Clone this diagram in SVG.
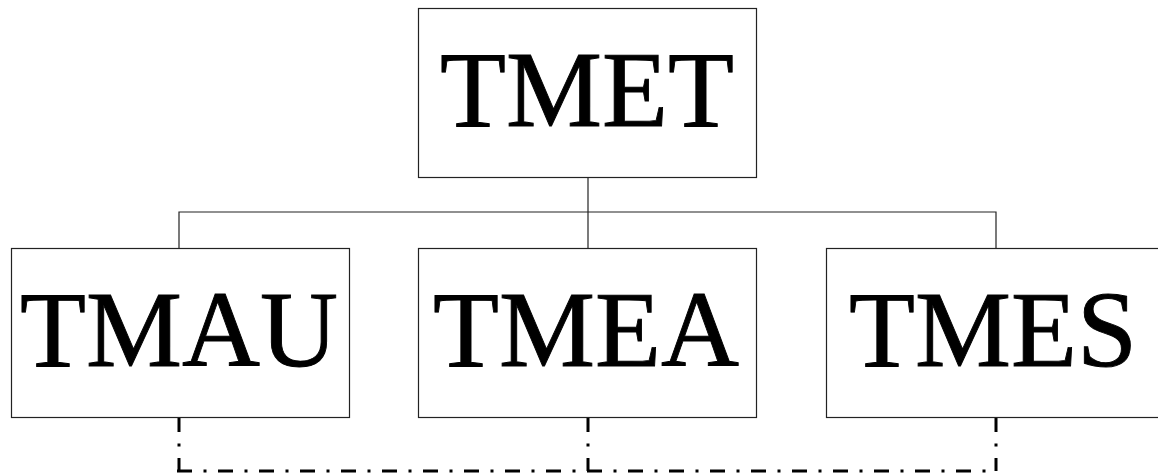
<svg xmlns="http://www.w3.org/2000/svg" width="1158" height="475" viewBox="0 0 1158 475">
  <style>
    .box { fill: #ffffff; stroke: #222222; stroke-width: 1.2; }
    .label { font-family: "Liberation Serif", "Times New Roman", serif; font-size: 108px; fill: #000000; stroke: #000000; stroke-width: 0.9; text-anchor: middle; }
    .tree { fill: none; stroke: #222222; stroke-width: 1.2; }
    .link { fill: none; stroke: #000000; stroke-width: 3; stroke-dasharray: 15 11.5 3 11.5; }
  </style>
  <rect width="1158" height="475" fill="#ffffff"/>

  <g id="connectors">
    <!-- hierarchy lines -->
    <path class="tree" d="M588 177 V248"/>
    <path class="tree" d="M179 248 V212 H996 V248"/>
    <!-- dash-dot links between the lower units -->
    <path class="link" d="M179 417 V471"/>
    <path class="link" d="M588 417 V471"/>
    <path class="link" d="M996 417 V471"/>
    <path class="link" d="M177 471 H997"/>
  </g>

  <g id="node-tmet">
    <rect class="box" x="418.5" y="8.5" width="338" height="169"/>
    <text class="label" x="587" y="126">TMET</text>
  </g>
  <g id="node-tmau">
    <rect class="box" x="11.5" y="248.5" width="338" height="169"/>
    <text class="label" x="179" y="366">TMAU</text>
  </g>
  <g id="node-tmea">
    <rect class="box" x="418.5" y="248.5" width="338" height="169"/>
    <text class="label" x="586" y="366">TMEA</text>
  </g>
  <g id="node-tmes">
    <rect class="box" x="826.5" y="248.5" width="338" height="169"/>
    <text class="label" x="993" y="366">TMES</text>
  </g>
</svg>
